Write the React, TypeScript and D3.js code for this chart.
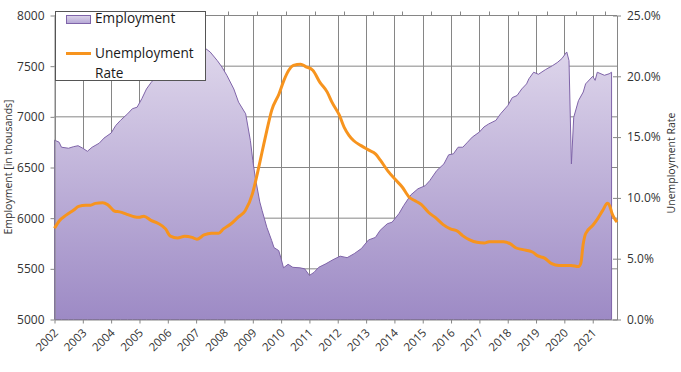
import { useEffect, useRef } from "react";
import * as d3 from "d3";

const empMonths = [
	"2002-01", "2002-03", "2002-04", "2002-07", "2002-09", "2002-11", "2003-01", "2003-03", "2003-05", "2003-08",
	"2003-10", "2004-01", "2004-03", "2004-05", "2004-08", "2004-10", "2004-12", "2005-02", "2005-04", "2005-06",
	"2005-09", "2006-02", "2006-06", "2006-10", "2007-02", "2007-05", "2007-07", "2007-10", "2007-12", "2008-02",
	"2008-05", "2008-07", "2008-10", "2008-12", "2009-01", "2009-02", "2009-04", "2009-05", "2009-07", "2009-09",
	"2009-10", "2009-12", "2010-01", "2010-02", "2010-04", "2010-06", "2010-09", "2010-11", "2011-01", "2011-03",
	"2011-05", "2011-08", "2011-11", "2012-02", "2012-05", "2012-08", "2012-11", "2013-02", "2013-05", "2013-07",
	"2013-10", "2013-12", "2014-03", "2014-05", "2014-08", "2014-11", "2015-02", "2015-04", "2015-07", "2015-10",
	"2015-12", "2016-02", "2016-04", "2016-06", "2016-08", "2016-10", "2017-01", "2017-03", "2017-05", "2017-08",
	"2017-10", "2018-01", "2018-03", "2018-05", "2018-07", "2018-09", "2018-10", "2018-12", "2019-02", "2019-05",
	"2019-08", "2019-10", "2019-12", "2020-02", "2020-03", "2020-04", "2020-05", "2020-07", "2020-09", "2020-10",
	"2021-01", "2021-02", "2021-03", "2021-06", "2021-08", "2021-09",
];
const empValues = [
	6770, 6750, 6700, 6690, 6705, 6715, 6690, 6660, 6700, 6740,
	6790, 6840, 6915, 6965, 7030, 7080, 7095, 7180, 7275, 7340,
	7420, 7480, 7540, 7600, 7650, 7675, 7640, 7555, 7490, 7410,
	7275, 7145, 7030, 6765, 6570, 6405, 6160, 6075, 5910, 5780,
	5710, 5680, 5600, 5510, 5545, 5515, 5510, 5500, 5435, 5465,
	5515, 5550, 5590, 5625, 5610, 5650, 5700, 5785, 5810, 5880,
	5945, 5960, 6045, 6125, 6230, 6290, 6320, 6370, 6470, 6535,
	6625, 6635, 6700, 6700, 6750, 6800, 6850, 6900, 6930, 6965,
	7030, 7110, 7190, 7210, 7275, 7325, 7375, 7440, 7420, 7465,
	7505, 7535, 7575, 7640, 7555, 6535, 6995, 7160, 7245, 7325,
	7400, 7360, 7440, 7410, 7425, 7440,
];

const rateMonths = [
	"2002-01", "2002-03", "2002-06", "2002-09", "2002-11", "2003-02", "2003-04", "2003-06", "2003-09", "2003-11",
	"2004-02", "2004-04", "2004-07", "2004-10", "2004-12", "2005-02", "2005-05", "2005-08", "2005-11", "2006-01",
	"2006-04", "2006-07", "2006-10", "2006-12", "2007-03", "2007-06", "2007-09", "2007-11", "2008-02", "2008-05",
	"2008-08", "2008-11", "2009-01", "2009-03", "2009-05", "2009-07", "2009-10", "2009-12", "2010-02", "2010-04",
	"2010-07", "2010-09", "2010-12", "2011-03", "2011-06", "2011-08", "2011-11", "2012-01", "2012-03", "2012-05",
	"2012-08", "2012-11", "2013-02", "2013-04", "2013-07", "2013-10", "2014-01", "2014-04", "2014-06", "2014-09",
	"2014-12", "2015-03", "2015-06", "2015-09", "2015-12", "2016-02", "2016-05", "2016-08", "2016-11", "2017-01",
	"2017-04", "2017-07", "2017-10", "2017-12", "2018-03", "2018-07", "2018-09", "2018-12", "2019-03", "2019-06",
	"2019-08", "2019-11", "2020-02", "2020-03", "2020-04", "2020-05", "2020-08", "2020-10", "2020-12", "2021-02",
	"2021-03", "2021-04", "2021-05", "2021-06",
];
const rateValues = [
	7.5, 8.1, 8.6, 9.0, 9.3, 9.4, 9.4, 9.55, 9.6, 9.45,
	8.9, 8.85, 8.65, 8.45, 8.4, 8.5, 8.15, 7.9, 7.45, 6.85,
	6.7, 6.85, 6.75, 6.6, 6.95, 7.1, 7.1, 7.45, 7.85, 8.4,
	8.95, 10.35, 12.0, 13.75, 15.55, 17.2, 18.55, 19.65, 20.5, 20.9,
	21.0, 20.8, 20.5, 19.5, 18.7, 17.85, 16.8, 15.8, 15.15, 14.7,
	14.3, 13.95, 13.6, 13.1, 12.25, 11.55, 10.9, 10.05, 9.8, 9.45,
	8.8, 8.35, 7.8, 7.45, 7.25, 6.9, 6.55, 6.35, 6.3, 6.4,
	6.4, 6.4, 6.2, 5.9, 5.75, 5.55, 5.25, 5.05, 4.6, 4.45,
	4.45, 4.45, 4.35, 4.6, 6.2, 7.05, 7.75, 8.3, 8.95, 9.55,
	9.35, 8.7, 8.3, 8.0,
];

const leftTicks = [5000, 5500, 6000, 6500, 7000, 7500, 8000];
const rightTicks = [0, 5, 10, 15, 20, 25];
const yearTicks = d3.range(2002, 2022);

const font = "'Open Sans', sans-serif";
const gridColor = "#868686";

export default function App() {
	const svgRef = useRef<SVGSVGElement>(null);

	useEffect(() => {
		if (!svgRef.current) return;
		const svg = d3.select(svgRef.current);
		svg.selectAll("*").remove();

		const parse = d3.timeParse("%Y-%m");
		const empDates = empMonths.map((m) => parse(m) as Date);
		const rateDates = rateMonths.map((m) => parse(m) as Date);

		const left = 54.5;
		const right = 617;
		const top = 15.5;
		const bottom = 319.5;

		const x = d3.scaleTime().domain([new Date(2002, 0, 1), new Date(2021, 10, 10)]).range([left, right]);
		const x2 = d3.scaleTime().domain([new Date(2002, 0, 1), new Date(2021, 5, 1)]).range([left, right]);
		const yL = d3.scaleLinear().domain([5000, 8000]).range([bottom, top]);
		const yR = d3.scaleLinear().domain([0, 25]).range([bottom, top]);

		const defs = svg.append("defs");
		const grad = defs.append("linearGradient").attr("id", "empFill").attr("x1", 0).attr("y1", 0).attr("x2", 0).attr("y2", 1);
		grad.append("stop").attr("offset", "0%").attr("stop-color", "#ded6eb");
		grad.append("stop").attr("offset", "100%").attr("stop-color", "#9d8ac5");
		const legGrad = defs.append("linearGradient").attr("id", "legFill").attr("x1", 0).attr("y1", 0).attr("x2", 0).attr("y2", 1);
		legGrad.append("stop").attr("offset", "0%").attr("stop-color", "#ddd5ea");
		legGrad.append("stop").attr("offset", "100%").attr("stop-color", "#b4a6d5");

		// gridlines
		const grid = svg.append("g").attr("stroke", gridColor).attr("stroke-width", 1);
		grid
			.selectAll("line.h")
			.data(leftTicks.slice(1))
			.join("line")
			.attr("x1", left)
			.attr("x2", right)
			.attr("y1", (d) => yL(d))
			.attr("y2", (d) => yL(d));
		grid
			.selectAll("line.v")
			.data(yearTicks)
			.join("line")
			.attr("x1", (d) => Math.round(x(new Date(d, 0, 1))) + 0.5)
			.attr("x2", (d) => Math.round(x(new Date(d, 0, 1))) + 0.5)
			.attr("y1", top)
			.attr("y2", bottom);

		// top ticks of the secondary category axis
		svg
			.append("g")
			.attr("stroke", gridColor)
			.selectAll("line")
			.data(d3.range(2002, 2022))
			.join("line")
			.attr("x1", (d) => Math.round(x2(new Date(d, 0, 1))) + 0.5)
			.attr("x2", (d) => Math.round(x2(new Date(d, 0, 1))) + 0.5)
			.attr("y1", top)
			.attr("y2", top - 4);

		// employment area
		const area = d3
			.area<number>()
			.x((_, i) => x(empDates[i]))
			.y0(bottom)
			.y1((d) => yL(d));
		svg
			.append("path")
			.datum(empValues)
			.attr("d", area)
			.attr("fill", "url(#empFill)")
			.attr("stroke", "#7f64a9")
			.attr("stroke-width", 1);

		// axes
		const styleAxis = (g: d3.Selection<SVGGElement, unknown, null, undefined>) => {
			g.select(".domain").attr("stroke", gridColor);
			g.selectAll(".tick line").attr("stroke", gridColor);
			g.selectAll("text").attr("fill", "#333").attr("font-family", font);
		};

		svg
			.append("g")
			.attr("transform", `translate(${left},0)`)
			.call(
				d3
					.axisLeft(yL)
					.tickValues(leftTicks)
					.tickSize(4)
					.tickSizeOuter(0)
					.tickPadding(6)
					.tickFormat((d) => String(d))
			)
			.call(styleAxis)
			.selectAll("text")
			.attr("font-size", 12);

		const rAxis = svg
			.append("g")
			.attr("transform", `translate(${right},0)`)
			.call(
				d3
					.axisRight(yR)
					.tickValues(rightTicks)
					.tickSize(4)
					.tickSizeOuter(0)
					.tickPadding(6)
					.tickFormat((d) => `${Number(d).toFixed(1)}%`)
			)
			.call(styleAxis);
		rAxis.selectAll("text").attr("font-size", 12);
		rAxis.selectAll(".tick").append("line").attr("x2", -4).attr("stroke", gridColor);

		const bAxis = svg
			.append("g")
			.attr("transform", `translate(0,${bottom})`)
			.call(
				d3
					.axisBottom(x)
					.tickValues(yearTicks.map((yr) => new Date(yr, 0, 1)))
					.tickSize(4)
					.tickSizeOuter(0)
					.tickFormat((d) => d3.timeFormat("%Y")(d as Date))
			)
			.call(styleAxis);
		bAxis
			.selectAll("text")
			.attr("font-size", 11.5)
			.attr("text-anchor", "end")
			.attr("x", 0)
			.attr("y", 0)
			.attr("dy", 0)
			.attr("transform", "translate(4,14) rotate(-45)");

		// unemployment line
		const line = d3
			.line<number>()
			.x((_, i) => x2(rateDates[i]))
			.y((d) => yR(d))
			.curve(d3.curveMonotoneX);
		svg
			.append("path")
			.datum(rateValues)
			.attr("d", line)
			.attr("fill", "none")
			.attr("stroke", "#f7941e")
			.attr("stroke-width", 3)
			.attr("stroke-linejoin", "round");

		// axis titles
		svg
			.append("text")
			.attr("transform", "translate(12,167) rotate(-90)")
			.attr("text-anchor", "middle")
			.attr("font-family", font)
			.attr("font-size", 10.5)
			.attr("fill", "#333")
			.text("Employment [in thousands]");
		svg
			.append("text")
			.attr("transform", "translate(674.5,163) rotate(-90)")
			.attr("text-anchor", "middle")
			.attr("font-family", font)
			.attr("font-size", 10.5)
			.attr("fill", "#333")
			.text("Unemployment Rate");

		// legend
		const legend = svg.append("g");
		legend
			.append("rect")
			.attr("x", 55.5)
			.attr("y", 11.5)
			.attr("width", 150)
			.attr("height", 69)
			.attr("fill", "#fff")
			.attr("stroke", "#555");
		legend
			.append("rect")
			.attr("x", 66.5)
			.attr("y", 15.5)
			.attr("width", 24)
			.attr("height", 8)
			.attr("fill", "url(#legFill)")
			.attr("stroke", "#7f64a9");
		legend
			.append("line")
			.attr("x1", 66)
			.attr("x2", 91)
			.attr("y1", 53.5)
			.attr("y2", 53.5)
			.attr("stroke", "#f7941e")
			.attr("stroke-width", 3);
		const legText = legend
			.append("g")
			.attr("font-family", font)
			.attr("font-size", 13.6)
			.attr("fill", "#1a1a1a");
		legText.append("text").attr("x", 95).attr("y", 23).text("Employment");
		legText.append("text").attr("x", 95).attr("y", 58).text("Unemployment");
		legText.append("text").attr("x", 95).attr("y", 78).text("Rate");
	}, []);

	return (
		<div style={{ position: "absolute", left: 0, top: 0 }}>
			<svg ref={svgRef} width={681} height={372} />
		</div>
	);
}
